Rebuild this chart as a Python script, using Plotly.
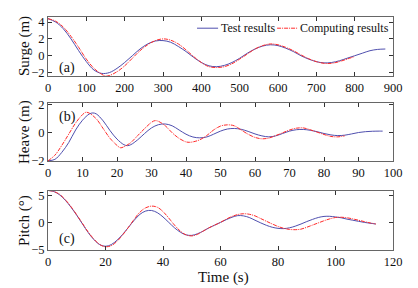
import plotly.graph_objects as go
from plotly.subplots import make_subplots

# ---- Surge (a) ----
surge_t_test = [0, 20, 40, 60, 80, 100, 120, 140, 160, 180, 200, 220, 240, 260, 280, 300, 320, 340, 360, 380,
                400, 420, 440, 460, 480, 500, 520, 540, 560, 580, 600, 620, 640, 660, 680, 700, 720, 740, 760,
                780, 800, 820, 840, 860, 880]
surge_test = [4.4, 4.0, 3.2, 2.0, 0.6, -0.7, -1.7, -2.1, -2.0, -1.5, -0.8, 0.0, 0.8, 1.4, 1.75, 1.8, 1.6, 1.1,
              0.5, -0.2, -0.8, -1.2, -1.3, -1.15, -0.8, -0.3, 0.3, 0.8, 1.15, 1.3, 1.2, 0.9, 0.5, 0.0, -0.4,
              -0.7, -0.85, -0.8, -0.6, -0.3, 0.0, 0.3, 0.6, 0.75, 0.8]
surge_t_comp = [0, 20, 40, 60, 80, 100, 120, 140, 150, 160, 180, 200, 220, 240, 260, 280, 300, 320, 340, 360,
                380, 400, 420, 440, 460, 480, 500, 520, 540, 560, 580, 600, 620, 640, 660, 680, 700, 720, 740,
                760, 780, 800]
surge_comp = [4.4, 4.1, 3.4, 2.3, 1.0, -0.4, -1.5, -2.2, -2.4, -2.35, -1.9, -1.2, -0.3, 0.6, 1.3, 1.8, 2.0,
              1.85, 1.4, 0.7, -0.1, -0.8, -1.3, -1.4, -1.3, -0.95, -0.4, 0.2, 0.8, 1.2, 1.4, 1.3, 1.0, 0.6,
              0.1, -0.35, -0.7, -0.9, -0.9, -0.7, -0.4, -0.1]

# ---- Heave (b) ----
heave_t_test = [0, 2, 4, 6, 8, 10, 12, 13, 14, 16, 18, 20, 22, 23, 24, 26, 28, 30, 32, 34, 36, 38, 40, 42, 44,
                46, 48, 50, 52, 54, 56, 58, 60, 62, 64, 66, 68, 70, 72, 74, 76, 78, 80, 82, 84, 86, 88, 90, 92,
                94, 96, 97]
heave_test = [-2.0, -1.9, -1.4, -0.7, 0.2, 0.9, 1.35, 1.42, 1.35, 0.85, 0.15, -0.45, -0.85, -0.92, -0.85, -0.5,
              -0.05, 0.35, 0.58, 0.63, 0.5, 0.2, -0.1, -0.3, -0.36, -0.3, -0.1, 0.12, 0.27, 0.31, 0.25, 0.1,
              -0.08, -0.22, -0.29, -0.22, -0.05, 0.12, 0.22, 0.24, 0.18, 0.08, -0.05, -0.15, -0.2, -0.17,
              -0.08, 0.02, 0.08, 0.11, 0.12, 0.12]
heave_t_comp = [0, 2, 4, 6, 8, 10, 11, 12, 14, 16, 18, 20, 21, 22, 24, 26, 28, 30, 31, 32, 34, 36, 38, 40, 41,
                42, 44, 46, 48, 50, 52, 54, 56, 58, 60, 62, 64, 66, 68, 70, 72, 74, 76, 78, 80, 82, 84, 86]
heave_comp = [-2.0, -1.6, -0.9, -0.1, 0.7, 1.3, 1.47, 1.4, 1.0, 0.3, -0.4, -0.9, -1.07, -1.0, -0.7, -0.2,
              0.3, 0.75, 0.87, 0.82, 0.5, 0.0, -0.4, -0.65, -0.68, -0.65, -0.5, -0.2, 0.2, 0.48, 0.57, 0.5,
              0.2, -0.1, -0.33, -0.43, -0.38, -0.2, 0.0, 0.2, 0.33, 0.35, 0.22, 0.05, -0.12, -0.26, -0.29, -0.22]

# ---- Pitch (c) ----
pitch_t = [0, 2, 4, 6, 8, 10, 12, 14, 16, 18, 20, 22, 24, 26, 28, 30, 32, 34, 36, 38, 40, 42, 44, 46, 48, 50,
           52, 54, 56, 58, 60, 62, 64, 66, 68, 70, 72, 74, 76, 78, 80, 82, 84, 86, 88, 90, 92, 94, 96, 98, 100,
           102, 104, 106, 108, 110, 112, 114]
pitch_test = [5.9, 5.7, 5.1, 4.1, 2.8, 1.3, -0.3, -1.9, -3.2, -4.1, -4.4, -4.1, -3.3, -2.2, -0.9, 0.4, 1.5,
              2.1, 2.2, 1.8, 1.0, 0.0, -1.0, -1.8, -2.3, -2.4, -2.1, -1.6, -1.0, -0.5, 0.0, 0.5, 0.95, 1.25,
              1.2, 0.9, 0.4, -0.1, -0.55, -0.9, -1.1, -1.15, -1.0, -0.7, -0.3, 0.15, 0.55, 0.9, 1.1, 1.12,
              1.0, 0.85, 0.6, 0.4, 0.2, 0.0, -0.15, -0.3]
pitch_comp = [5.9, 5.7, 5.2, 4.2, 2.9, 1.4, -0.2, -1.8, -3.1, -4.1, -4.5, -4.3, -3.5, -2.3, -0.9, 0.6, 1.9,
              2.7, 3.0, 2.8, 2.0, 0.8, -0.5, -1.6, -2.3, -2.5, -2.2, -1.6, -1.0, -0.5, 0.0, 0.6, 1.1, 1.45,
              1.6, 1.5, 1.2, 0.7, 0.2, -0.3, -0.75, -1.1, -1.3, -1.35, -1.25, -0.9, -0.5, -0.1, 0.3, 0.65,
              0.9, 0.95, 0.85, 0.65, 0.4, 0.15, -0.1, -0.3]

names = ["Test results", "Computing results"]
ytitles = ["Surge (m)", "Heave (m)", "Pitch (°)"]
xtitle = "Time (s)"
panel_tags = ["(a)", "(b)", "(c)"]

BLUE = "#4f4fae"
RED = "#ff2a2a"
DASH = "4px,1px,1px,1px"
FONT = "'Liberation Serif', 'Times New Roman', Times, serif"
AXC = "#666666"
TXT = "#111111"

fig = make_subplots(rows=3, cols=1, vertical_spacing=0.1)

series = [
    (surge_t_test, surge_test, surge_t_comp, surge_comp),
    (heave_t_test, heave_test, heave_t_comp, heave_comp),
    (pitch_t, pitch_test, pitch_t, pitch_comp),
]
for i, (tt, yt, tc, yc) in enumerate(series, start=1):
    fig.add_trace(go.Scatter(x=tt, y=yt, mode="lines", name=names[0], showlegend=False,
                             line=dict(color=BLUE, width=1, shape="spline")), row=i, col=1)
    fig.add_trace(go.Scatter(x=tc, y=yc, mode="lines", name=names[1], showlegend=False,
                             line=dict(color=RED, width=1, shape="spline", dash=DASH)),
                  row=i, col=1)

xranges = [[0, 900], [0, 100], [0, 120]]
xdticks = [100, 10, 20]
yranges = [[-2.4, 4.6], [-2.05, 2.1], [-5.1, 5.85]]
ytickvals = [[-2, 0, 2, 4], [-2, 0, 2], [-5, 0, 5]]
ydomains = [[0.747, 1.0], [0.380, 0.629], [0.0, 0.2545]]
tagy = [0.14, 0.77, 0.19]

axcommon = dict(showline=True, linecolor=AXC, linewidth=1, mirror="ticks", ticks="inside", ticklen=4,
                tickcolor="#333333", showgrid=False, zeroline=False, automargin=False,
                tickfont=dict(family=FONT, size=12.5, color=TXT))
for i in range(3):
    fig.update_xaxes(range=xranges[i], dtick=xdticks[i], tick0=0, row=i + 1, col=1, **axcommon)
    fig.update_yaxes(range=yranges[i], tickvals=ytickvals[i], domain=ydomains[i], row=i + 1, col=1,
                     **axcommon)
    xref = "x domain" if i == 0 else f"x{i + 1} domain"
    yref = "y domain" if i == 0 else f"y{i + 1} domain"
    fig.add_annotation(text=panel_tags[i], xref=xref, yref=yref, x=0.025, y=tagy[i], xanchor="left",
                       yanchor="middle", showarrow=False, font=dict(family=FONT, size=14, color=TXT))
    # y-axis title
    fig.add_annotation(text=ytitles[i], xref="paper", yref=yref, x=-0.068, y=0.5, textangle=-90,
                       xanchor="center", yanchor="middle", showarrow=False,
                       font=dict(family=FONT, size=15, color=TXT))

# x-axis title
fig.add_annotation(text=xtitle, xref="paper", yref="paper", x=0.51, y=-0.118, xanchor="center",
                   yanchor="middle", showarrow=False, font=dict(family=FONT, size=15, color=TXT))

# manual legend in panel (a), top right
leg_y = 0.81
leg_items = [(names[0], BLUE, "solid", 0.432, 0.493), (names[1], RED, DASH, 0.664, 0.722)]
for name, col, dash, x0, x1 in leg_items:
    fig.add_shape(type="line", xref="x domain", yref="y domain", x0=x0, x1=x1, y0=leg_y, y1=leg_y,
                  line=dict(color=col, width=1, dash=dash))
    fig.add_annotation(text=name, xref="x domain", yref="y domain", x=x1 + 0.004, y=leg_y,
                       xanchor="left", yanchor="middle", showarrow=False,
                       font=dict(family=FONT, size=12, color=TXT))

fig.update_layout(
    width=418, height=288,
    margin=dict(l=48, r=25, t=17, b=38),
    paper_bgcolor="white", plot_bgcolor="white",
    font=dict(family=FONT, color=TXT),
    showlegend=False,
)

fig.write_html("out.html", config={"displayModeBar": False},
               post_script="document.body.style.margin='0px';")
